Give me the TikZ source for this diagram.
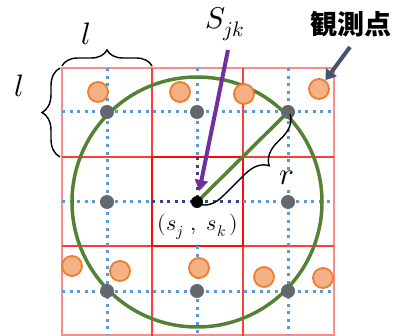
\documentclass[tikz,border=0pt]{standalone}
\usepackage{fontspec}
\usepackage{unicode-math}
\setmathfont{Latin Modern Math}
\newfontfamily\cjk{Noto Sans CJK JP}
\usetikzlibrary{arrows.meta,decorations.pathreplacing}
\definecolor{lightred}{RGB}{250,140,140}
\definecolor{midred}{RGB}{255,60,60}
\definecolor{strongred}{RGB}{255,10,10}
\definecolor{dotblue}{RGB}{91,155,213}
\definecolor{darkdotblue}{RGB}{47,70,140}
\definecolor{dotgray}{RGB}{98,104,110}
\definecolor{obsfill}{RGB}{244,177,131}
\definecolor{obsdraw}{RGB}{237,125,49}
\definecolor{circgreen}{RGB}{84,130,53}
\definecolor{arrpurple}{RGB}{112,48,160}
\definecolor{slate}{RGB}{68,84,106}
\tikzset{
  lightline/.style={draw=lightred,line width=1.6pt},
  midline/.style={draw=midred,line width=1.6pt},
  strongline/.style={draw=strongred,line width=1.8pt},
  bluedot/.style={draw=dotblue,line width=3pt,dash pattern=on 3pt off 4.6pt},
  darkbluedot/.style={draw=darkdotblue,line width=3pt,dash pattern=on 3pt off 4.6pt},
  graydot/.style={circle,fill=dotgray,minimum size=14pt,inner sep=0pt},
  centerdot/.style={circle,fill=black,minimum size=12pt,inner sep=0pt},
  obs/.style={circle,fill=obsfill,draw=obsdraw,line width=1.8pt,minimum size=20pt,inner sep=0pt},
  bigcircle/.style={draw=circgreen,line width=3.5pt},
  radline/.style={draw=circgreen,line width=3.5pt},
  purplearrow/.style={draw=arrpurple,line width=4pt,-{Triangle[width=13pt,length=11pt]}},
  slatearrow/.style={draw=slate,line width=4pt,-{Triangle[width=13pt,length=10pt]}},
  bracestyle/.style={draw=black,line width=1.4pt,decorate,decoration={brace,amplitude=#1}},
  mathlbl/.style={inner sep=1pt,font=\fontsize{31}{33}\selectfont},
}
\begin{document}
\begin{tikzpicture}[x=1pt,y=-1pt]
\useasboundingbox (0,0) rectangle (395,336);
% grid cells
\draw[lightline] (62,68) rectangle (334,335);
\draw[midline] (152,68) -- (152,336);
\draw[midline] (243,68) -- (243,336);
\draw[midline] (62,157) -- (334,157);
\draw[midline] (62,246) -- (334,246);
\draw[strongline] (152,157) rectangle (243,246);
% dotted cell centre lines
\draw[bluedot] (107,68) -- (107,335);
\draw[bluedot] (288,68) -- (288,335);
\draw[bluedot] (197,68) -- (197,157);
\draw[bluedot] (197,246) -- (197,335);
\draw[darkbluedot] (197,157) -- (197,202);
\draw[bluedot] (62,112) -- (334,112);
\draw[bluedot] (62,291) -- (334,291);
\draw[bluedot] (62,202) -- (152,202);
\draw[bluedot] (243,202) -- (334,202);
\draw[darkbluedot] (152,202) -- (243,202);
% positions
\coordinate (pc) at (197,202);
\coordinate (p11) at (107,112);
\coordinate (p12) at (197,112);
\coordinate (p13) at (288,112);
\coordinate (p21) at (107,202);
\coordinate (p23) at (288,202);
\coordinate (p31) at (107,291);
\coordinate (p32) at (197,291);
\coordinate (p33) at (288,291);
% search circle and radius
\draw[bigcircle] (pc) circle[radius=125];
\draw[radline] (pc) -- (p13);
% grid points
\node[graydot] (g11) at (p11) {};
\node[graydot] (g12) at (p12) {};
\node[graydot] (g13) at (p13) {};
\node[graydot] (g21) at (p21) {};
\node[graydot] (g23) at (p23) {};
\node[graydot] (g31) at (p31) {};
\node[graydot] (g32) at (p32) {};
\node[graydot] (g33) at (p33) {};
\node[centerdot] (c) at (pc) {};
% observation points
\node[obs] (o1) at (98,92) {};
\node[obs] (o2) at (180,92) {};
\node[obs] (o3) at (244,94) {};
\node[obs] (o4) at (319,89) {};
\node[obs] (o5) at (72,266) {};
\node[obs] (o6) at (120,271) {};
\node[obs] (o7) at (199,268) {};
\node[obs] (o8) at (264,277) {};
\node[obs] (o9) at (323,278) {};
% radius brace
\draw[draw=black,line width=1.4pt,decorate,decoration={brace,amplitude=22pt,raise=3pt,aspect=0.4}] (p13) -- (pc);
\node[mathlbl,fill=white] (rl) at (287,178) {$r$};
% cell size braces
\coordinate (tb1) at (62,66);
\coordinate (tb2) at (152,66);
\draw[bracestyle=16pt] (tb1) -- (tb2);
\node[mathlbl] (lt) at (86,34) {$l$};
\coordinate (lb1) at (60,157);
\coordinate (lb2) at (60,68);
\draw[bracestyle=18pt] (lb1) -- (lb2);
\node[mathlbl] (ll) at (19,86) {$l$};
% labels
\node[inner sep=1pt,font=\fontsize{30}{32}\selectfont] (sjk) at (225,24) {$S_{jk}$};
\coordinate (ps) at (228,50);
\draw[purplearrow,shorten >=5pt] (ps) -- (c);
\node[inner sep=1pt,fill=white,font=\fontsize{22}{24}\selectfont] (sjsk) at (198,227) {$(s_j\ ,\ s_k\,)$};
\node[inner sep=1pt,font=\cjk\bfseries\fontsize{27}{30}\selectfont] (kan) at (351,24) {観測点};
\coordinate (ks) at (350,47);
\draw[slatearrow] (ks) -- (o4);
\end{tikzpicture}
\end{document}
